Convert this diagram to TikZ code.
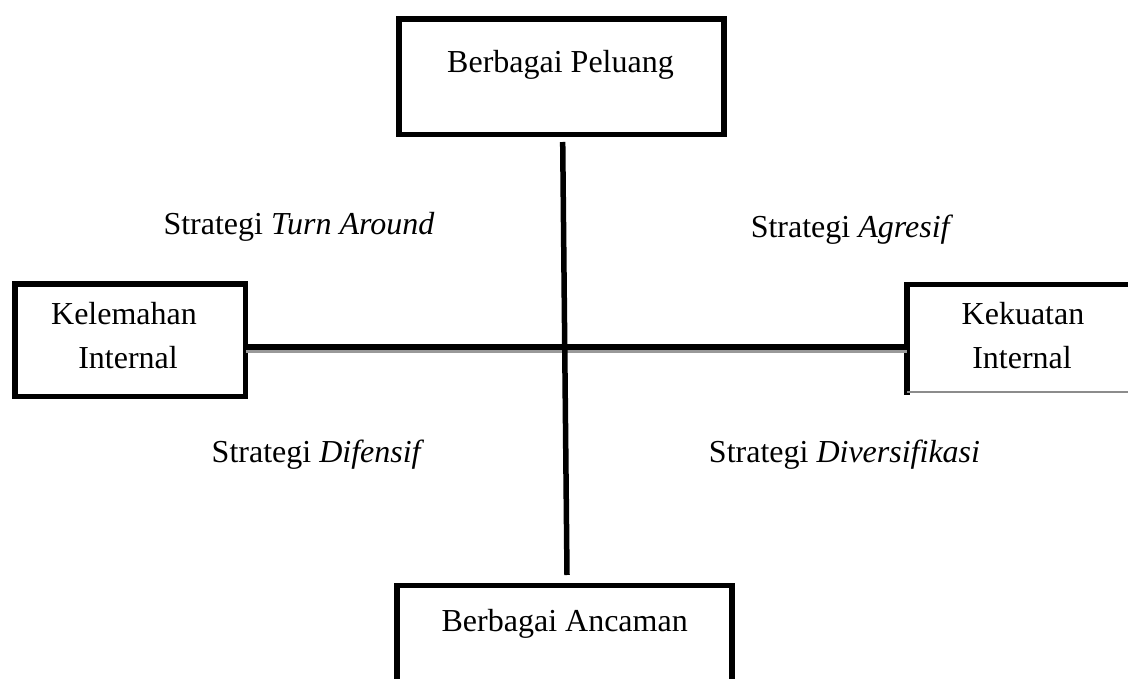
\documentclass[tikz,border=0pt]{standalone}
\usepackage{fontspec}
\setmainfont{Liberation Serif}
\begin{document}
\begin{tikzpicture}[x=1pt,y=-1pt,
  boxline/.style={draw=black, line width=5.5pt, inner sep=0pt, outer sep=0pt},
  txt/.style={inner sep=0pt, anchor=base, font=\fontsize{32}{43}\selectfont},
  axis/.style={draw=black, line width=5.5pt},
  shadow/.style={draw=black!40, line width=3.5pt}]
\useasboundingbox (0,0) rectangle (1128,679);
\clip (0,0) rectangle (1128,679);
% boxes
\node[boxline, minimum width=325pt, minimum height=115.5pt] (peluang) at (561.5,76.75) {};
\node[boxline, minimum width=230.5pt, minimum height=112.5pt] (lemah) at (130.25,340.25) {};
\node[inner sep=0pt, outer sep=0pt, minimum width=233pt, minimum height=107.5pt] (kuat) at (1023.5,338.25) {};
\draw[line width=5.5pt, line cap=rect] (kuat.south west) -- (kuat.north west) -- (kuat.north east);
\draw[black!45, line width=1.5pt] (kuat.south west) -- (kuat.south east);
\node[boxline, minimum width=335pt, minimum height=114.7pt] (ancaman) at (564.5,642.65) {};
% box texts
\node[txt] (tp) at (560.5,73) {Berbagai Peluang};
\node[txt] (ta) at (564.7,631.7) {Berbagai Ancaman};
\node[txt] (tl1) at (124,325) {Kelemahan};
\node[txt] (tl2) at (128,368) {Internal};
\node[txt] (tk1) at (1023,325) {Kekuatan};
\node[txt] (tk2) at (1022,368) {Internal};
% strategy labels
\node[txt] (s1) at (299,235) {Strategi \textit{Turn Around}};
\node[txt] (s2) at (852,238) {Strategi \textit{Agresif}};
\node[txt] (s3) at (318,462) {Strategi \textit{Difensif}};
\node[txt] (s4) at (844.5,462) {Strategi \textit{Diversifikasi}};
% axes
\coordinate (hy) at (0,347);
\coordinate (hs) at (0,351.5);
\draw[shadow] (lemah.east |- hs) -- (kuat.west |- hs);
\draw[axis] (lemah.east |- hy) -- (kuat.west |- hy);
\coordinate (vt) at (562.7,142);
\coordinate (vb) at (567,575);
\draw[axis] (vt) -- (vb);
\end{tikzpicture}
\end{document}
